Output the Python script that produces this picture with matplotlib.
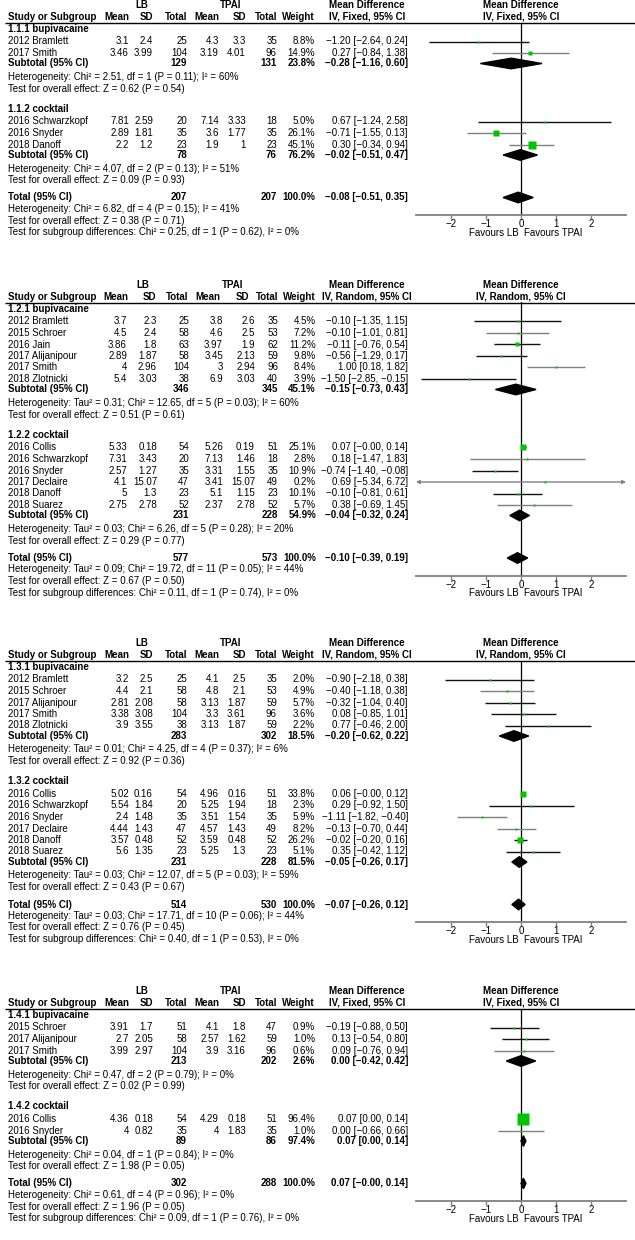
import matplotlib
matplotlib.use("Agg")
import matplotlib.pyplot as plt
from matplotlib.patches import Polygon

plt.rcParams["font.family"] = ["Liberation Sans", "DejaVu Sans"]
FS = 7.0

# ======================= DATA =======================
# ---- Analysis 1.1 ----
a1_model = "IV, Fixed, 95% CI"
a1_groups = ["1.1.1 bupivacaine", "1.1.2 cocktail"]
a1_study = ["2012 Bramlett", "2017 Smith", "2016 Schwarzkopf", "2016 Snyder", "2018 Danoff"]
a1_group = [0, 0, 1, 1, 1]
a1_lb_mean = [3.1, 3.46, 7.81, 2.89, 2.2]
a1_lb_sd = [2.4, 3.99, 2.59, 1.81, 1.2]
a1_lb_n = [25, 104, 20, 35, 23]
a1_tp_mean = [4.3, 3.19, 7.14, 3.6, 1.9]
a1_tp_sd = [3.3, 4.01, 3.33, 1.77, 1]
a1_tp_n = [35, 96, 18, 35, 23]
a1_weight = [8.8, 14.9, 5.0, 26.1, 45.1]
a1_md = [-1.20, 0.27, 0.67, -0.71, 0.30]
a1_lo = [-2.64, -0.84, -1.24, -1.55, -0.34]
a1_hi = [0.24, 1.38, 2.58, 0.13, 0.94]
a1_sub_lb_n = [129, 78]
a1_sub_tp_n = [131, 76]
a1_sub_weight = [23.8, 76.2]
a1_sub_md = [-0.28, -0.02]
a1_sub_lo = [-1.16, -0.51]
a1_sub_hi = [0.60, 0.47]
a1_sub_het = ["Heterogeneity: Chi² = 2.51, df = 1 (P = 0.11); I² = 60%",
              "Heterogeneity: Chi² = 4.07, df = 2 (P = 0.13); I² = 51%"]
a1_sub_z = ["Test for overall effect: Z = 0.62 (P = 0.54)",
            "Test for overall effect: Z = 0.09 (P = 0.93)"]
a1_tot_n = [207, 207]
a1_tot_weight = 100.0
a1_tot_ci = [-0.08, -0.51, 0.35]
a1_tot_text = ["Heterogeneity: Chi² = 6.82, df = 4 (P = 0.15); I² = 41%",
               "Test for overall effect: Z = 0.38 (P = 0.71)",
               "Test for subgroup differences: Chi² = 0.25, df = 1 (P = 0.62), I² = 0%"]

# ---- Analysis 1.2 ----
a2_model = "IV, Random, 95% CI"
a2_groups = ["1.2.1 bupivacaine", "1.2.2 cocktail"]
a2_study = ["2012 Bramlett", "2015 Schroer", "2016 Jain", "2017 Alijanipour", "2017 Smith",
            "2018 Zlotnicki", "2016 Collis", "2016 Schwarzkopf", "2016 Snyder", "2017 Declaire",
            "2018 Danoff", "2018 Suarez"]
a2_group = [0, 0, 0, 0, 0, 0, 1, 1, 1, 1, 1, 1]
a2_lb_mean = [3.7, 4.5, 3.86, 2.89, 4, 5.4, 5.33, 7.31, 2.57, 4.1, 5, 2.75]
a2_lb_sd = [2.3, 2.4, 1.8, 1.87, 2.96, 3.03, 0.18, 3.43, 1.27, 15.07, 1.3, 2.78]
a2_lb_n = [25, 58, 63, 58, 104, 38, 54, 20, 35, 47, 23, 52]
a2_tp_mean = [3.8, 4.6, 3.97, 3.45, 3, 6.9, 5.26, 7.13, 3.31, 3.41, 5.1, 2.37]
a2_tp_sd = [2.6, 2.5, 1.9, 2.13, 2.94, 3.03, 0.19, 1.46, 1.55, 15.07, 1.15, 2.78]
a2_tp_n = [35, 53, 62, 59, 96, 40, 51, 18, 35, 49, 23, 52]
a2_weight = [4.5, 7.2, 11.2, 9.8, 8.4, 3.9, 25.1, 2.8, 10.9, 0.2, 10.1, 5.7]
a2_md = [-0.10, -0.10, -0.11, -0.56, 1.00, -1.50, 0.07, 0.18, -0.74, 0.69, -0.10, 0.38]
a2_lo = [-1.35, -1.01, -0.76, -1.29, 0.18, -2.85, -0.0, -1.47, -1.40, -5.34, -0.81, -0.69]
a2_hi = [1.15, 0.81, 0.54, 0.17, 1.82, -0.15, 0.14, 1.83, -0.08, 6.72, 0.61, 1.45]
a2_sub_lb_n = [346, 231]
a2_sub_tp_n = [345, 228]
a2_sub_weight = [45.1, 54.9]
a2_sub_md = [-0.15, -0.04]
a2_sub_lo = [-0.73, -0.32]
a2_sub_hi = [0.43, 0.24]
a2_sub_het = ["Heterogeneity: Tau² = 0.31; Chi² = 12.65, df = 5 (P = 0.03); I² = 60%",
              "Heterogeneity: Tau² = 0.03; Chi² = 6.26, df = 5 (P = 0.28); I² = 20%"]
a2_sub_z = ["Test for overall effect: Z = 0.51 (P = 0.61)",
            "Test for overall effect: Z = 0.29 (P = 0.77)"]
a2_tot_n = [577, 573]
a2_tot_weight = 100.0
a2_tot_ci = [-0.10, -0.39, 0.19]
a2_tot_text = ["Heterogeneity: Tau² = 0.09; Chi² = 19.72, df = 11 (P = 0.05); I² = 44%",
               "Test for overall effect: Z = 0.67 (P = 0.50)",
               "Test for subgroup differences: Chi² = 0.11, df = 1 (P = 0.74), I² = 0%"]

# ---- Analysis 1.3 ----
a3_model = "IV, Random, 95% CI"
a3_groups = ["1.3.1 bupivacaine", "1.3.2 cocktail"]
a3_study = ["2012 Bramlett", "2015 Schroer", "2017 Alijanipour", "2017 Smith", "2018 Zlotnicki",
            "2016 Collis", "2016 Schwarzkopf", "2016 Snyder", "2017 Declaire", "2018 Danoff",
            "2018 Suarez"]
a3_group = [0, 0, 0, 0, 0, 1, 1, 1, 1, 1, 1]
a3_lb_mean = [3.2, 4.4, 2.81, 3.38, 3.9, 5.02, 5.54, 2.4, 4.44, 3.57, 5.6]
a3_lb_sd = [2.5, 2.1, 2.08, 3.08, 3.55, 0.16, 1.84, 1.48, 1.43, 0.48, 1.35]
a3_lb_n = [25, 58, 58, 104, 38, 54, 20, 35, 47, 52, 23]
a3_tp_mean = [4.1, 4.8, 3.13, 3.3, 3.13, 4.96, 5.25, 3.51, 4.57, 3.59, 5.25]
a3_tp_sd = [2.5, 2.1, 1.87, 3.61, 1.87, 0.16, 1.94, 1.54, 1.43, 0.48, 1.3]
a3_tp_n = [35, 53, 59, 96, 59, 51, 18, 35, 49, 52, 23]
a3_weight = [2.0, 4.9, 5.7, 3.6, 2.2, 33.8, 2.3, 5.9, 8.2, 26.2, 5.1]
a3_md = [-0.90, -0.40, -0.32, 0.08, 0.77, 0.06, 0.29, -1.11, -0.13, -0.02, 0.35]
a3_lo = [-2.18, -1.18, -1.04, -0.85, -0.46, -0.0, -0.92, -1.82, -0.70, -0.20, -0.42]
a3_hi = [0.38, 0.38, 0.40, 1.01, 2.00, 0.12, 1.50, -0.40, 0.44, 0.16, 1.12]
a3_sub_lb_n = [283, 231]
a3_sub_tp_n = [302, 228]
a3_sub_weight = [18.5, 81.5]
a3_sub_md = [-0.20, -0.05]
a3_sub_lo = [-0.62, -0.26]
a3_sub_hi = [0.22, 0.17]
a3_sub_het = ["Heterogeneity: Tau² = 0.01; Chi² = 4.25, df = 4 (P = 0.37); I² = 6%",
              "Heterogeneity: Tau² = 0.03; Chi² = 12.07, df = 5 (P = 0.03); I² = 59%"]
a3_sub_z = ["Test for overall effect: Z = 0.92 (P = 0.36)",
            "Test for overall effect: Z = 0.43 (P = 0.67)"]
a3_tot_n = [514, 530]
a3_tot_weight = 100.0
a3_tot_ci = [-0.07, -0.26, 0.12]
a3_tot_text = ["Heterogeneity: Tau² = 0.03; Chi² = 17.71, df = 10 (P = 0.06); I² = 44%",
               "Test for overall effect: Z = 0.76 (P = 0.45)",
               "Test for subgroup differences: Chi² = 0.40, df = 1 (P = 0.53), I² = 0%"]

# ---- Analysis 1.4 ----
a4_model = "IV, Fixed, 95% CI"
a4_groups = ["1.4.1 bupivacaine", "1.4.2 cocktail"]
a4_study = ["2015 Schroer", "2017 Alijanipour", "2017 Smith", "2016 Collis", "2016 Snyder"]
a4_group = [0, 0, 0, 1, 1]
a4_lb_mean = [3.91, 2.7, 3.99, 4.36, 4]
a4_lb_sd = [1.7, 2.05, 2.97, 0.18, 0.82]
a4_lb_n = [51, 58, 104, 54, 35]
a4_tp_mean = [4.1, 2.57, 3.9, 4.29, 4]
a4_tp_sd = [1.8, 1.62, 3.16, 0.18, 1.83]
a4_tp_n = [47, 59, 96, 51, 35]
a4_weight = [0.9, 1.0, 0.6, 96.4, 1.0]
a4_md = [-0.19, 0.13, 0.09, 0.07, 0.00]
a4_lo = [-0.88, -0.54, -0.76, 0.00, -0.66]
a4_hi = [0.50, 0.80, 0.94, 0.14, 0.66]
a4_sub_lb_n = [213, 89]
a4_sub_tp_n = [202, 86]
a4_sub_weight = [2.6, 97.4]
a4_sub_md = [0.00, 0.07]
a4_sub_lo = [-0.42, 0.00]
a4_sub_hi = [0.42, 0.14]
a4_sub_het = ["Heterogeneity: Chi² = 0.47, df = 2 (P = 0.79); I² = 0%",
              "Heterogeneity: Chi² = 0.04, df = 1 (P = 0.84); I² = 0%"]
a4_sub_z = ["Test for overall effect: Z = 0.02 (P = 0.99)",
            "Test for overall effect: Z = 1.98 (P = 0.05)"]
a4_tot_n = [302, 288]
a4_tot_weight = 100.0
a4_tot_ci = [0.07, -0.0, 0.14]
a4_tot_text = ["Heterogeneity: Chi² = 0.61, df = 4 (P = 0.96); I² = 0%",
               "Test for overall effect: Z = 1.96 (P = 0.05)",
               "Test for subgroup differences: Chi² = 0.09, df = 1 (P = 0.76), I² = 0%"]

xticks = [-2, -1, 0, 1, 2]
fav_left = "Favours LB"
fav_right = "Favours TPAI"

# ======================= STYLE / LAYOUT =======================
W, H = 635, 1240
GREEN = "#00c400"
DARK = "#111111"
GREY = "#808080"
a1_ci_col = [DARK, GREY, DARK, GREY, GREY]
a2_ci_col = [DARK, GREY, DARK, DARK, GREY, DARK, DARK, GREY, DARK, GREY, DARK, GREY]
a3_ci_col = [DARK, GREY, DARK, DARK, DARK, DARK, DARK, GREY, GREY, DARK, DARK]
a4_ci_col = [DARK, DARK, GREY, DARK, GREY]

COLS_A = dict(name=8, lb_mean=129, lb_sd=153, lb_n=187, tp_mean=219, tp_sd=246,
              tp_n=277, weight=315, ci=408, lb_hdr=142, tp_hdr=231, md_hdr=367)
COLS_B = dict(name=8, lb_mean=127, lb_sd=157, lb_n=189, tp_mean=223, tp_sd=255,
              tp_n=278, weight=316, ci=408, lb_hdr=143, tp_hdr=233, md_hdr=367)
HDR_A = dict(lb_mean=129, lb_sd=153, lb_n=187, tp_mean=219, tp_sd=246, tp_n=277, weight=315)
HDR_B = dict(lb_mean=128, lb_sd=156, lb_n=188, tp_mean=220, tp_sd=249, tp_n=278, weight=316)
PANEL_Y0 = [5, 285, 643, 991]
X0, X1 = 416, 626       # pixel extent of the forest axis (-3 .. 3)
XLIM = (-3, 3)

HDR_GAP, LINE_OFF, FIRST_HEAD = 11.5, 17.5, 23.5
HEAD_TO_STUDY, ROW, STUDY_TO_SUB = 13, 11.5, 10.5
SUB_TO_HET, HET_TO_Z, Z_TO_HEAD = 13.5, 11.5, 20
Z_TO_TOTAL, TOT_ROW, AXIS_OFF = 17.5, 11.5, 17.5
DIAM_H = 5.3


def build(prefix):
    g = globals()
    keys = ["model", "groups", "study", "group", "lb_mean", "lb_sd", "lb_n", "tp_mean",
            "tp_sd", "tp_n", "weight", "md", "lo", "hi", "sub_lb_n", "sub_tp_n",
            "sub_weight", "sub_md", "sub_lo", "sub_hi", "sub_het", "sub_z", "tot_n",
            "tot_weight", "tot_ci", "tot_text", "ci_col"]
    return {k: g[prefix + "_" + k] for k in keys}


def num(v):
    return f"{v:g}".replace("-", "\u2212")


def ci_txt(m, lo, hi):
    return f"{m:.2f} [{lo:.2f}, {hi:.2f}]".replace("-", "\u2212")


fig = plt.figure(figsize=(W / 100, H / 100), dpi=100)
bg = fig.add_axes([0, 0, 1, 1])
bg.set_xlim(0, W)
bg.set_ylim(H, 0)
bg.axis("off")


def T(x, y, s, ha="right", bold=False):
    bg.text(x, y, s, ha=ha, va="center", fontsize=FS,
            fontweight="bold" if bold else "normal", color="black")


def draw_panel(D, y0, c, hc):
    y_line = y0 + LINE_OFF
    # headers
    T(c["lb_hdr"], y0, "LB", ha="center", bold=True)
    T(c["tp_hdr"], y0, "TPAI", ha="center", bold=True)
    T(c["md_hdr"], y0, "Mean Difference", ha="center", bold=True)
    yh = y0 + HDR_GAP
    T(c["name"], yh, "Study or Subgroup", ha="left", bold=True)
    for key, lab in [("lb_mean", "Mean"), ("lb_sd", "SD"), ("lb_n", "Total"),
                     ("tp_mean", "Mean"), ("tp_sd", "SD"), ("tp_n", "Total"),
                     ("weight", "Weight")]:
        T(hc[key], yh, lab, bold=True)
    T(c["md_hdr"], yh, D["model"], ha="center", bold=True)
    bg.plot([5, W], [y_line, y_line], color="black", lw=1.0, solid_capstyle="butt")

    # vertical layout
    study_y = [0.0] * len(D["study"])
    sub_y, het_y, z_y, head_y = [], [], [], []
    y = y0 + FIRST_HEAD
    for g in range(len(D["groups"])):
        head_y.append(y)
        idx = [i for i, gg in enumerate(D["group"]) if gg == g]
        for k, i in enumerate(idx):
            study_y[i] = y + HEAD_TO_STUDY + ROW * k
        sub_y.append(study_y[idx[-1]] + STUDY_TO_SUB)
        het_y.append(sub_y[-1] + SUB_TO_HET)
        z_y.append(het_y[-1] + HET_TO_Z)
        y = z_y[-1] + Z_TO_HEAD
    tot_y = z_y[-1] + Z_TO_TOTAL
    axis_y = tot_y + AXIS_OFF

    # forest axes: x = mean difference, y = pixel rows
    ax = fig.add_axes([X0 / W, 1 - axis_y / H, (X1 - X0) / W, (axis_y - y_line) / H])
    ax.set_xlim(*XLIM)
    ax.set_ylim(axis_y, y_line)
    ax.patch.set_alpha(0)
    for s in ["top", "left", "right"]:
        ax.spines[s].set_visible(False)
    ax.spines["bottom"].set_color(GREY)
    ax.spines["bottom"].set_linewidth(1.3)
    ax.set_yticks([])
    ax.set_xticks(xticks)
    ax.tick_params(axis="x", color=GREY, labelcolor="black", length=3, width=1,
                   pad=0, labelsize=FS)
    ax.axvline(0, color="black", lw=0.9, zorder=1)
    ax.text(0, y0, "Mean Difference", ha="center", va="center", fontsize=FS, fontweight="bold")
    ax.text(0, yh, D["model"], ha="center", va="center", fontsize=FS, fontweight="bold")
    ax.text(-0.08, axis_y + 18, fav_left, ha="right", va="center", fontsize=FS)
    ax.text(0.08, axis_y + 18, fav_right, ha="left", va="center", fontsize=FS)

    # studies
    for i, name in enumerate(D["study"]):
        yy = study_y[i]
        T(c["name"], yy, name, ha="left")
        T(c["lb_mean"], yy, num(D["lb_mean"][i]))
        T(c["lb_sd"], yy, num(D["lb_sd"][i]))
        T(c["lb_n"], yy, num(D["lb_n"][i]))
        T(c["tp_mean"], yy, num(D["tp_mean"][i]))
        T(c["tp_sd"], yy, num(D["tp_sd"][i]))
        T(c["tp_n"], yy, num(D["tp_n"][i]))
        T(c["weight"], yy, f"{D['weight'][i]:.1f}%")
        T(c["ci"], yy, ci_txt(D["md"][i], D["lo"][i], D["hi"][i]))
        lo, hi = D["lo"][i], D["hi"][i]
        col = D["ci_col"][i]
        lo_c, hi_c = max(lo, XLIM[0]), min(hi, XLIM[1])
        if lo < XLIM[0] or hi > XLIM[1]:
            style = "<|-|>" if (lo < XLIM[0] and hi > XLIM[1]) else ("-|>" if hi > XLIM[1] else "<|-")
            ax.annotate("", xy=(hi_c, yy), xytext=(lo_c, yy),
                        arrowprops=dict(arrowstyle=style, color=col, lw=1.0,
                                        shrinkA=0, shrinkB=0, mutation_scale=5))
        else:
            ax.plot([lo_c, hi_c], [yy, yy], color=col, lw=1.0, solid_capstyle="butt", zorder=2)
        side = max(2.2, 0.63 * D["weight"][i] ** 0.65)
        ax.plot([D["md"][i]], [yy], marker="s", ms=side * 0.72, color=GREEN,
                mec="none", zorder=3, clip_on=False)

    # subgroups
    for g, gname in enumerate(D["groups"]):
        T(c["name"], head_y[g], gname, ha="left", bold=True)
        sy = sub_y[g]
        T(c["name"], sy, "Subtotal (95% CI)", ha="left", bold=True)
        T(c["lb_n"], sy, num(D["sub_lb_n"][g]), bold=True)
        T(c["tp_n"], sy, num(D["sub_tp_n"][g]), bold=True)
        T(c["weight"], sy, f"{D['sub_weight'][g]:.1f}%", bold=True)
        T(c["ci"], sy, ci_txt(D["sub_md"][g], D["sub_lo"][g], D["sub_hi"][g]), bold=True)
        m, lo, hi = D["sub_md"][g], D["sub_lo"][g], D["sub_hi"][g]
        ax.add_patch(Polygon([(lo, sy), (m, sy - DIAM_H), (hi, sy), (m, sy + DIAM_H)],
                             closed=True, color="black", zorder=3, clip_on=False))
        T(c["name"], het_y[g], D["sub_het"][g], ha="left")
        T(c["name"], z_y[g], D["sub_z"][g], ha="left")

    # total
    T(c["name"], tot_y, "Total (95% CI)", ha="left", bold=True)
    T(c["lb_n"], tot_y, num(D["tot_n"][0]), bold=True)
    T(c["tp_n"], tot_y, num(D["tot_n"][1]), bold=True)
    T(c["weight"], tot_y, f"{D['tot_weight']:.1f}%", bold=True)
    m, lo, hi = D["tot_ci"]
    T(c["ci"], tot_y, ci_txt(m, lo, hi), bold=True)
    ax.add_patch(Polygon([(lo, tot_y), (m, tot_y - DIAM_H), (hi, tot_y), (m, tot_y + DIAM_H)],
                         closed=True, color="black", zorder=3, clip_on=False))
    for k, s in enumerate(D["tot_text"]):
        T(c["name"], tot_y + TOT_ROW * (k + 1), s, ha="left")


panels = [build("a1"), build("a2"), build("a3"), build("a4")]
cols = [COLS_A, COLS_B, COLS_A, COLS_A]
hdrs = [HDR_A, HDR_B, HDR_A, HDR_A]
for D, y0, c, hc in zip(panels, PANEL_Y0, cols, hdrs):
    draw_panel(D, y0, c, hc)

fig.savefig("out.png", dpi=100, facecolor="white")
